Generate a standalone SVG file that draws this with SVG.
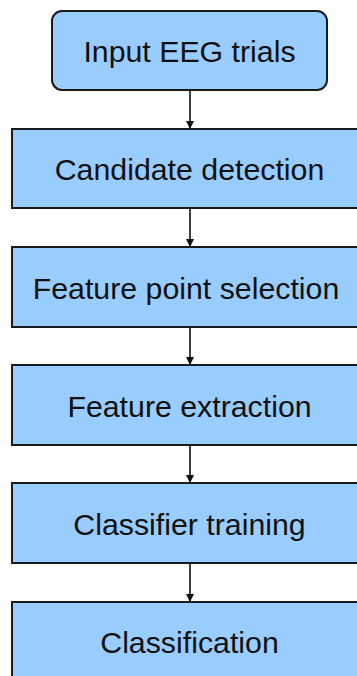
<svg xmlns="http://www.w3.org/2000/svg" width="357" height="676" viewBox="0 0 357 676">
<style>
.box{fill:#99CCFF;stroke:#1a1a1a;stroke-width:2}
.lbl{font-family:"Liberation Sans",Arial,sans-serif;font-size:30.3px;fill:#111;text-anchor:middle}
.conn{stroke:#111;stroke-width:1.6;fill:none;marker-end:url(#ah)}
</style>
<defs>
<marker id="ah" markerWidth="8" markerHeight="8" refX="7" refY="4" orient="auto" markerUnits="userSpaceOnUse">
<path d="M0,0 L8,4 L0,8 z" fill="#111"/>
</marker>
</defs>
<rect width="357" height="676" fill="#fff"/>
<g id="connectors">
<line class="conn" x1="190" y1="90" x2="190" y2="128"/>
<line class="conn" x1="190" y1="208" x2="190" y2="246"/>
<line class="conn" x1="190" y1="327" x2="190" y2="364"/>
<line class="conn" x1="190" y1="445" x2="190" y2="482"/>
<line class="conn" x1="190" y1="563" x2="190" y2="601"/>
</g>
<g id="input">
<rect class="box" x="52" y="11" width="275" height="79" rx="10"/>
<text class="lbl" x="189.5" y="62">Input EEG trials</text>
</g>
<g id="candidate">
<rect class="box" x="12" y="129" width="360" height="79"/>
<text class="lbl" x="189.5" y="180">Candidate detection</text>
</g>
<g id="featurepoint">
<rect class="box" x="12" y="247" width="360" height="80"/>
<text class="lbl" x="186" y="299">Feature point selection</text>
</g>
<g id="featureextraction">
<rect class="box" x="12" y="365" width="360" height="80"/>
<text class="lbl" x="189.5" y="417">Feature extraction</text>
</g>
<g id="classifiertraining">
<rect class="box" x="12" y="483" width="360" height="80"/>
<text class="lbl" x="189.5" y="535">Classifier training</text>
</g>
<g id="classification">
<rect class="box" x="12" y="602" width="360" height="90"/>
<text class="lbl" x="189.5" y="653">Classification</text>
</g>
</svg>
